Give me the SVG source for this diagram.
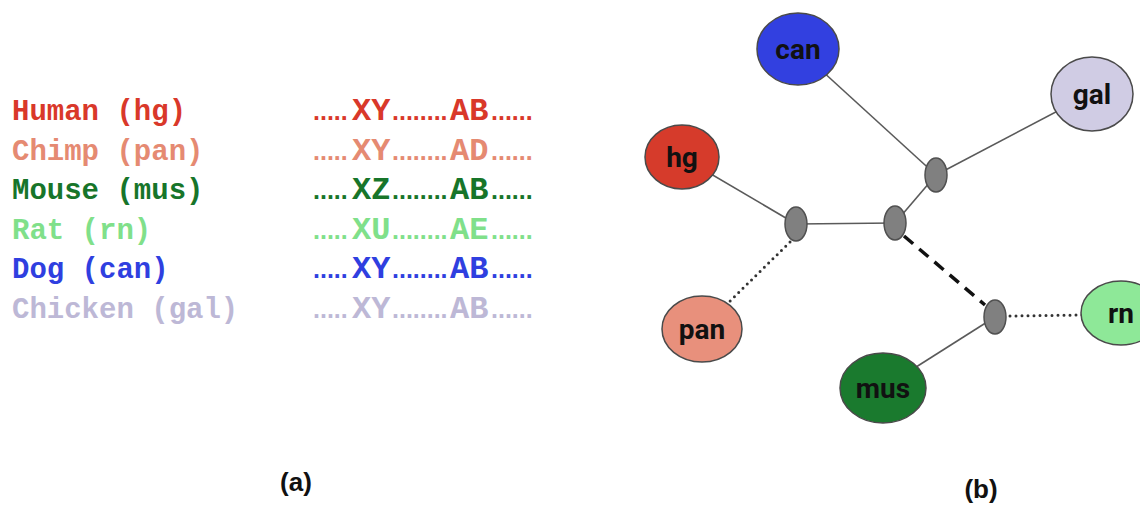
<svg xmlns="http://www.w3.org/2000/svg" width="1140" height="506" viewBox="0 0 1140 506">
<style>
.lbl{font-family:"Liberation Mono","Courier New",monospace;font-weight:bold;font-size:29px}
.dots{font-family:"Liberation Sans",Arial,sans-serif;font-size:25px}
.big{font-size:32px}
.sol{stroke:#5a5a5a;stroke-width:1.6;fill:none}
.dot{stroke:#333;stroke-width:3;stroke-linecap:round;stroke-dasharray:0 6;fill:none}
.dash{stroke:#111;stroke-width:3.5;stroke-dasharray:12 8;fill:none}
.leaf{stroke:#4a4a4a;stroke-width:1.5}
.inner{fill:#808080;stroke:#505050;stroke-width:1.5}
.nt{font-family:Roboto,"Liberation Sans",sans-serif;font-weight:bold;font-size:28px;fill:#111;text-anchor:middle}
.cap{font-family:"Liberation Sans",Arial,sans-serif;font-weight:bold;font-size:26px;fill:#111;text-anchor:middle}
</style>
<rect width="1140" height="506" fill="#ffffff"/>
<g id="alignment">
<text class="lbl" x="12" y="120" fill="#d9382a">Human (hg)</text>
<text class="lbl" x="12" y="160" fill="#e58a72">Chimp (pan)</text>
<text class="lbl" x="12" y="199" fill="#17752a">Mouse (mus)</text>
<text class="lbl" x="12" y="239" fill="#80e08a">Rat (rn)</text>
<text class="lbl" x="12" y="278" fill="#2f3fe0">Dog (can)</text>
<text class="lbl" x="12" y="318" fill="#bdb8d6">Chicken (gal)</text>
<text class="lbl" y="120" fill="#d9382a"><tspan class="dots" x="313">.....</tspan><tspan class="big" x="352">XY</tspan><tspan class="dots" x="392">........</tspan><tspan class="big" x="450">AB</tspan><tspan class="dots" x="491">......</tspan></text>
<text class="lbl" y="160" fill="#e58a72"><tspan class="dots" x="313">.....</tspan><tspan class="big" x="352">XY</tspan><tspan class="dots" x="392">........</tspan><tspan class="big" x="450">AD</tspan><tspan class="dots" x="491">......</tspan></text>
<text class="lbl" y="199" fill="#17752a"><tspan class="dots" x="313">.....</tspan><tspan class="big" x="352">XZ</tspan><tspan class="dots" x="392">........</tspan><tspan class="big" x="450">AB</tspan><tspan class="dots" x="491">......</tspan></text>
<text class="lbl" y="239" fill="#80e08a"><tspan class="dots" x="313">.....</tspan><tspan class="big" x="352">XU</tspan><tspan class="dots" x="392">........</tspan><tspan class="big" x="450">AE</tspan><tspan class="dots" x="491">......</tspan></text>
<text class="lbl" y="278" fill="#2f3fe0"><tspan class="dots" x="313">.....</tspan><tspan class="big" x="352">XY</tspan><tspan class="dots" x="392">........</tspan><tspan class="big" x="450">AB</tspan><tspan class="dots" x="491">......</tspan></text>
<text class="lbl" y="318" fill="#bdb8d6"><tspan class="dots" x="313">.....</tspan><tspan class="big" x="352">XY</tspan><tspan class="dots" x="392">........</tspan><tspan class="big" x="450">AB</tspan><tspan class="dots" x="491">......</tspan></text>
<text class="cap" x="296" y="491">(a)</text>
</g>
<g id="connectors">
<line class="sol" x1="682" y1="157" x2="796" y2="224"/>
<line class="sol" x1="796" y1="224" x2="895" y2="223"/>
<line class="sol" x1="895" y1="223" x2="936" y2="175"/>
<line class="sol" x1="936" y1="175" x2="798" y2="49"/>
<line class="sol" x1="936" y1="175" x2="1092" y2="93"/>
<line class="sol" x1="995" y1="317" x2="883" y2="388"/>
<line class="dot" x1="790" y1="242" x2="726" y2="305"/>
<line class="dash" x1="904" y1="236" x2="985" y2="305"/>
<line class="dot" x1="1010" y1="316" x2="1082" y2="315"/>
</g>
<g id="node-can"><ellipse class="leaf" cx="798" cy="49" rx="41" ry="36" fill="#3240e0"/><text class="nt" x="798" y="59">can</text></g>
<g id="node-gal"><ellipse class="leaf" cx="1092" cy="94" rx="41" ry="37" fill="#d0cce4"/><text class="nt" x="1092" y="104">gal</text></g>
<g id="node-hg"><ellipse class="leaf" cx="682" cy="157" rx="37" ry="32" fill="#d63b2b"/><text class="nt" x="682" y="167">hg</text></g>
<g id="node-pan"><ellipse class="leaf" cx="702" cy="329" rx="40" ry="33" fill="#e8907c"/><text class="nt" x="702" y="339">pan</text></g>
<g id="node-mus"><ellipse class="leaf" cx="883" cy="388" rx="43" ry="35" fill="#1a7a2e"/><text class="nt" x="883" y="398">mus</text></g>
<g id="node-rn"><ellipse class="leaf" cx="1121" cy="313" rx="40" ry="32" fill="#8ee898"/><text class="nt" x="1121" y="323">rn</text></g>
<g id="node-i1"><ellipse class="inner" cx="796" cy="224" rx="11" ry="17"/></g>
<g id="node-i2"><ellipse class="inner" cx="895" cy="223" rx="11" ry="17"/></g>
<g id="node-i3"><ellipse class="inner" cx="936" cy="175" rx="11" ry="17"/></g>
<g id="node-i4"><ellipse class="inner" cx="995" cy="317" rx="11" ry="17"/></g>
<text class="cap" x="981" y="498">(b)</text>
</svg>
